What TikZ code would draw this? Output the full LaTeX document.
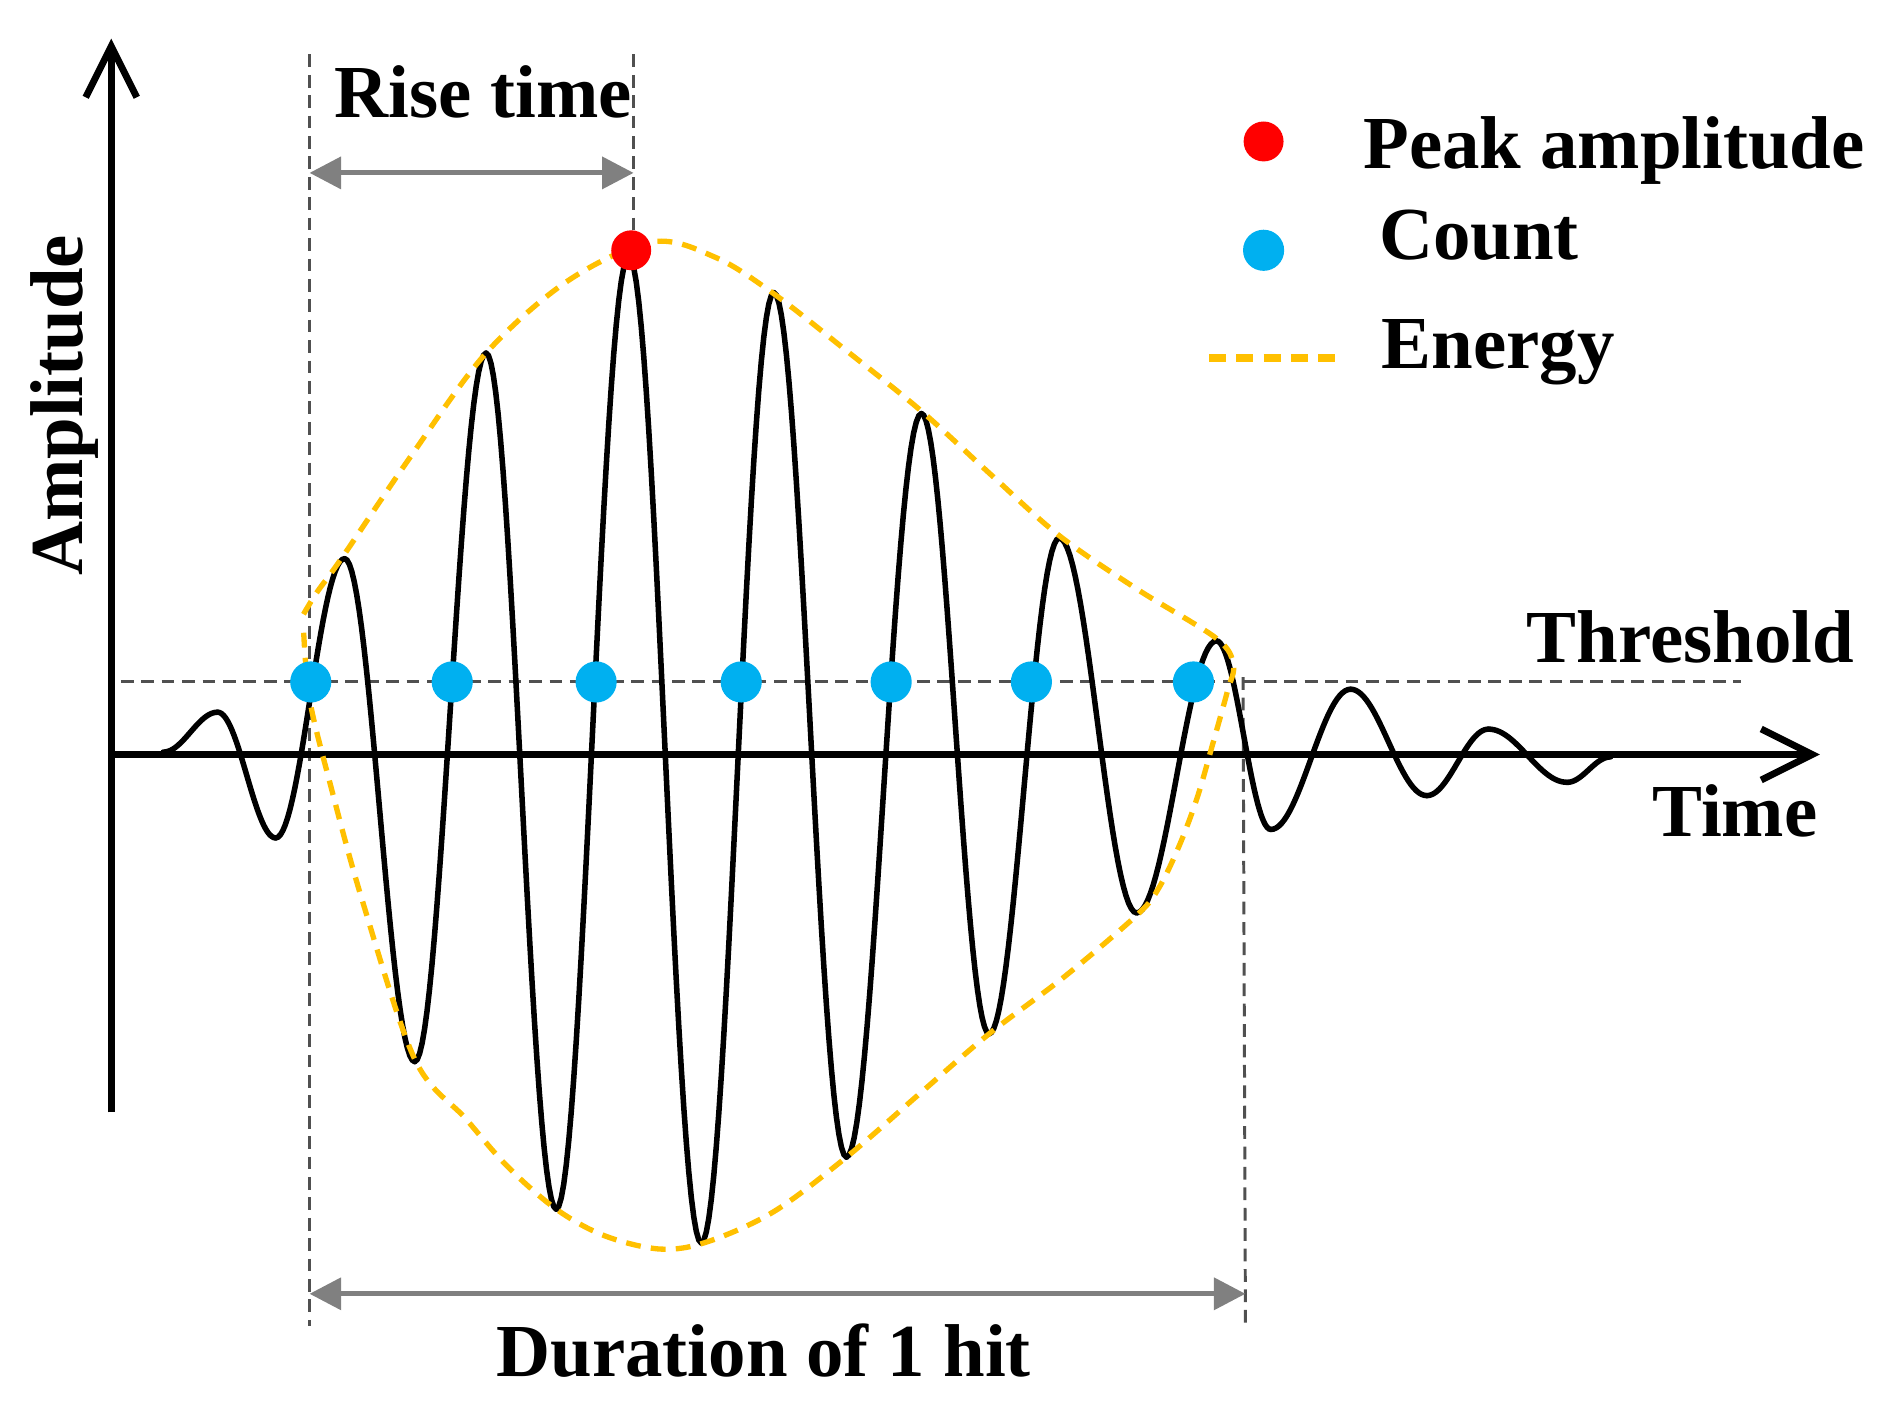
\documentclass[tikz,border=0pt]{standalone}
\usepackage{fontspec}
\setmainfont{Liberation Serif}
\usetikzlibrary{arrows.meta}
\definecolor{cntblue}{HTML}{00B0F0}
\definecolor{pkred}{HTML}{FF0000}
\definecolor{engold}{HTML}{FFC000}
\definecolor{dimgray}{HTML}{808080}
\definecolor{guidegray}{HTML}{505050}
\begin{document}
\begin{tikzpicture}[x=0.01cm,y=-0.01cm,
  lbl/.style={font=\fontsize{17.6}{20}\selectfont\bfseries, inner sep=0pt, anchor=base west},
  axisline/.style={line width=1.6pt, -{Straight Barb[length=12pt,width=12pt,line width=1.6pt]}},
  spanarrow/.style={draw=dimgray, line width=1.2pt, {Triangle[length=7.4pt,width=7.4pt]}-{Triangle[length=7.4pt,width=7.4pt]}},
  guide/.style={draw=guidegray, line width=0.7pt, dash pattern=on 3pt off 1.8pt},
  wave/.style={line width=1.3pt, line cap=round},
  envelope/.style={draw=engold, line width=1.25pt, dash pattern=on 3.5pt off 2.4pt},
  cdot/.style={circle, fill=cntblue, inner sep=0pt, minimum size=0.34cm},
  pdot/.style={circle, fill=pkred, inner sep=0pt, minimum size=0.33cm}]
\useasboundingbox (0,0) rectangle (1568,1168);

% guide coordinates
\coordinate (g1t) at (256,45);
\coordinate (g1b) at (256,1097);
\coordinate (g2t) at (524,45);
\coordinate (g2b) at (524,205);
\coordinate (g3t) at (1028,560);
\coordinate (g3b) at (1030,1100);
\coordinate (thl) at (100,564);
\coordinate (thr) at (1440,564);
\coordinate (o) at (92,624);
\coordinate (ytip) at (92,32);
\coordinate (ybot) at (92,920);
\coordinate (xtip) at (1505,624);
\coordinate (rs) at (256,143);
\coordinate (re) at (524,143);
\coordinate (ds) at (256,1070);
\coordinate (de) at (1030,1070);
\coordinate (legs) at (1000,296);
\coordinate (lege) at (1112,296);

% dashed guides
\draw[guide] (g1t) -- (g1b);
\draw[guide] (g2t) -- (g2b);
\draw[guide] (g3t) -- (g3b);
\draw[guide] (thl) -- (thr);

% axes
\draw[axisline] (ybot) -- (ytip);
\draw[axisline] (o) -- (xtip);

% span arrows
\draw[spanarrow] (rs) -- (re);
\draw[spanarrow] (ds) -- (de);

% waveform
\foreach \xa/\ya/\xb/\yb in {135/622/180/589, 180/589/228/693, 228/693/285/462,
  285/462/343/878, 343/878/402/292, 402/292/460/1000, 460/1000/520/212,
  520/212/580/1028, 580/1028/640/242, 640/242/700/957, 700/957/762/342,
  762/342/818/855, 818/855/876/445, 876/445/940/755, 940/755/1006/530,
  1006/530/1051/686, 1051/686/1117/570, 1117/570/1180/658, 1180/658/1231/603,
  1231/603/1296/647, 1296/647/1332/626}
  \draw[wave] plot[domain=0:1, samples=30] ({\xa+(\xb-\xa)*\x},{(\ya+\yb)/2+(\ya-\yb)/2*cos(180*\x)});

% energy envelope
\draw[envelope] plot[smooth, tension=0.55] coordinates {
  (251,508) (262,490) (283,461) (340,377) (402,292) (470,232) (540,200) (592,213)
  (640,243) (700,290) (762,340) (820,393) (876,443) (940,487) (1006,528) (1020,550)
  (1015,572) (1003,615) (990,660) (975,700) (958,735) (940,757) (880,808) (818,855)
  (760,905) (700,957) (640,1002) (585,1027) (546,1033) (500,1022) (460,1000)
  (420,965) (385,925) (343,876) (300,746) (273,648) (256,578) (251,520)};

% count dots and peak
\foreach \cx [count=\i] in {257,374,493,613,737,853,987}
  \node[cdot] (c\i) at (\cx,564) {};
\node[pdot] (pk) at (522,207) {};

% legend
\node[pdot] (lpk) at (1045,117) {};
\node[cdot] (lct) at (1045,207) {};
\draw[draw=engold, line width=1.7pt, dash pattern=on 4pt off 2.4pt] (legs) -- (lege);

% labels
\node[lbl] (rise) at (276,97) {Rise time};
\node[lbl] (peak) at (1127,139) {Peak amplitude};
\node[lbl] (count) at (1140,215) {Count};
\node[lbl] (energy) at (1142,305) {Energy};
\node[lbl] (thresh) at (1262,548) {Threshold};
\node[lbl] (time) at (1366,692) {Time};
\node[lbl] (dur) at (410,1138) {Duration of 1 hit};
\node[lbl, rotate=90] (amp) at (68,477) {Amplitude};
\end{tikzpicture}
\end{document}
